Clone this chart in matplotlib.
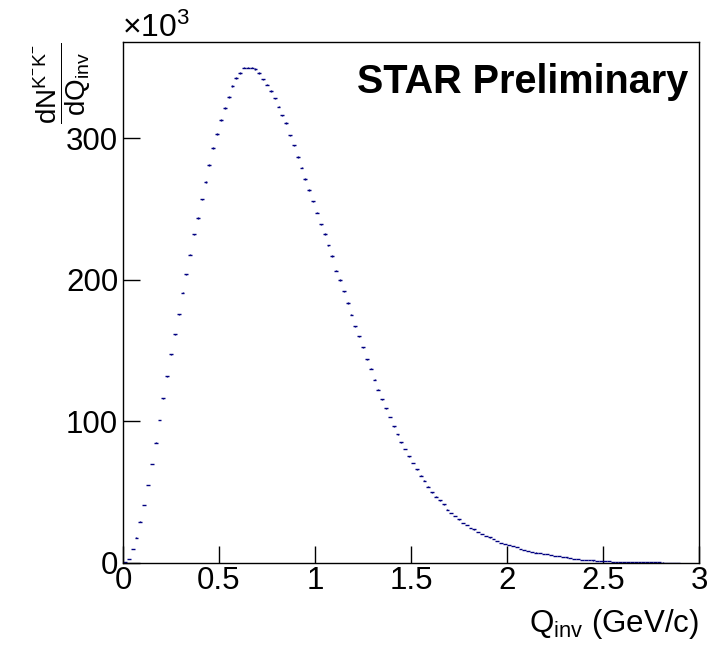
import numpy as np
import matplotlib
matplotlib.use("Agg")
import matplotlib.pyplot as plt

plt.rcParams['font.family'] = ['Liberation Sans', 'DejaVu Sans']
plt.rcParams['mathtext.fontset'] = 'custom'
plt.rcParams['mathtext.rm'] = 'Liberation Sans'
plt.rcParams['mathtext.it'] = 'Liberation Sans'
plt.rcParams['mathtext.bf'] = 'Liberation Sans:bold'

# ---- data (counts in units of 10^3 per bin, bin width 0.02 GeV/c) ----
bin_width = 0.02
q_first = 0.01
counts_k = [
    0.9, 3.0, 9.9, 17.9, 29.2, 40.9, 55.1, 69.9, 85.0, 101.0,
    116.5, 132.0, 147.3, 161.6, 175.8, 190.8, 204.0, 217.9, 232.2, 243.8,
    256.9, 269.2, 281.0, 293.2, 303.0, 312.7, 321.4, 329.0, 336.7, 342.4,
    346.1, 349.9, 349.9, 349.9, 348.9, 346.1, 341.6, 337.9, 333.6, 328.2,
    322.4, 316.2, 310.6, 302.1, 295.0, 286.8, 279.3, 271.3, 263.5, 255.5,
    247.5, 239.3, 232.5, 224.4, 216.9, 206.6, 199.8, 192.0, 183.7, 175.3,
    167.3, 160.0, 152.3, 144.0, 137.2, 129.4, 122.3, 115.8, 109.4, 103.1,
    96.7, 90.8, 85.2, 80.5, 75.3, 70.7, 66.2, 61.6, 58.1, 53.9,
    49.9, 46.8, 44.2, 41.4, 37.6, 35.3, 33.2, 30.8, 28.4, 27.0,
    24.9, 23.8, 22.1, 20.5, 19.1, 18.1, 16.9, 15.5, 14.1, 13.4,
    12.7, 11.8, 11.1, 9.9, 9.0, 8.3, 8.0, 7.4, 6.9, 6.5,
    6.1, 5.6, 5.2, 4.7, 4.3, 3.9, 3.5, 3.1, 2.7, 2.4,
    2.2, 2.0, 1.8, 1.6, 1.4, 1.3, 1.1, 1.0, 0.9, 0.8,
    0.75, 0.7, 0.65, 0.6, 0.55, 0.5, 0.47, 0.44, 0.41, 0.38,
    0.35, 0.33, 0.31, 0.29, 0.27,
]
x_ticks = [0, 0.5, 1, 1.5, 2, 2.5, 3]
x_tick_labels = ['0', '0.5', '1', '1.5', '2', '2.5', '3']
y_ticks = [0, 100, 200, 300]
y_tick_labels = ['0', '100', '200', '300']

counts_k = np.array(counts_k)
q = q_first + bin_width * np.arange(len(counts_k))
yerr = np.sqrt(counts_k * 1000.0) / 1000.0

W, H = 709, 645
fig = plt.figure(figsize=(W / 100, H / 100), dpi=100)
L, R, T, B = 123, 699, 42, 563
ax = fig.add_axes([L / W, 1 - B / H, (R - L) / W, (B - T) / H])

ax.errorbar(q, counts_k, xerr=bin_width / 2, yerr=yerr, fmt='none',
            ecolor='#000080', elinewidth=1.0, capsize=0)

ax.set_xlim(0, 3)
ax.set_ylim(0, 368)
ax.set_xticks(x_ticks)
ax.set_xticklabels(x_tick_labels)
ax.set_yticks(y_ticks)
ax.set_yticklabels(y_tick_labels)
ax.tick_params(axis='both', direction='in', length=12, width=1, labelsize=22.5,
               colors='black')
ax.tick_params(axis='x', pad=2)
ax.tick_params(axis='y', pad=3.5)
for s in ax.spines.values():
    s.set_linewidth(1)
    s.set_color('black')

fig.text(122 / W, 1 - 37 / H, r'$\times\mathregular{10^{3}}$', fontsize=23,
         ha='left', va='baseline')
fig.text(688 / W, 1 - 93 / H, 'STAR Preliminary', fontsize=28.5,
         fontweight='bold', ha='right', va='baseline')
fig.text(699 / W, 1 - 632 / H, r'$\mathregular{Q_{inv}}$ (GeV/c)', fontsize=22.5,
         ha='right', va='baseline')
fig.text(62 / W, 1 - 42 / H,
         r'$\dfrac{\mathregular{dN^{K^{-}K^{-}}}}{\mathregular{dQ_{inv}}}$',
         fontsize=20, rotation=90, ha='center', va='top')

fig.savefig('out.png', dpi=100)
